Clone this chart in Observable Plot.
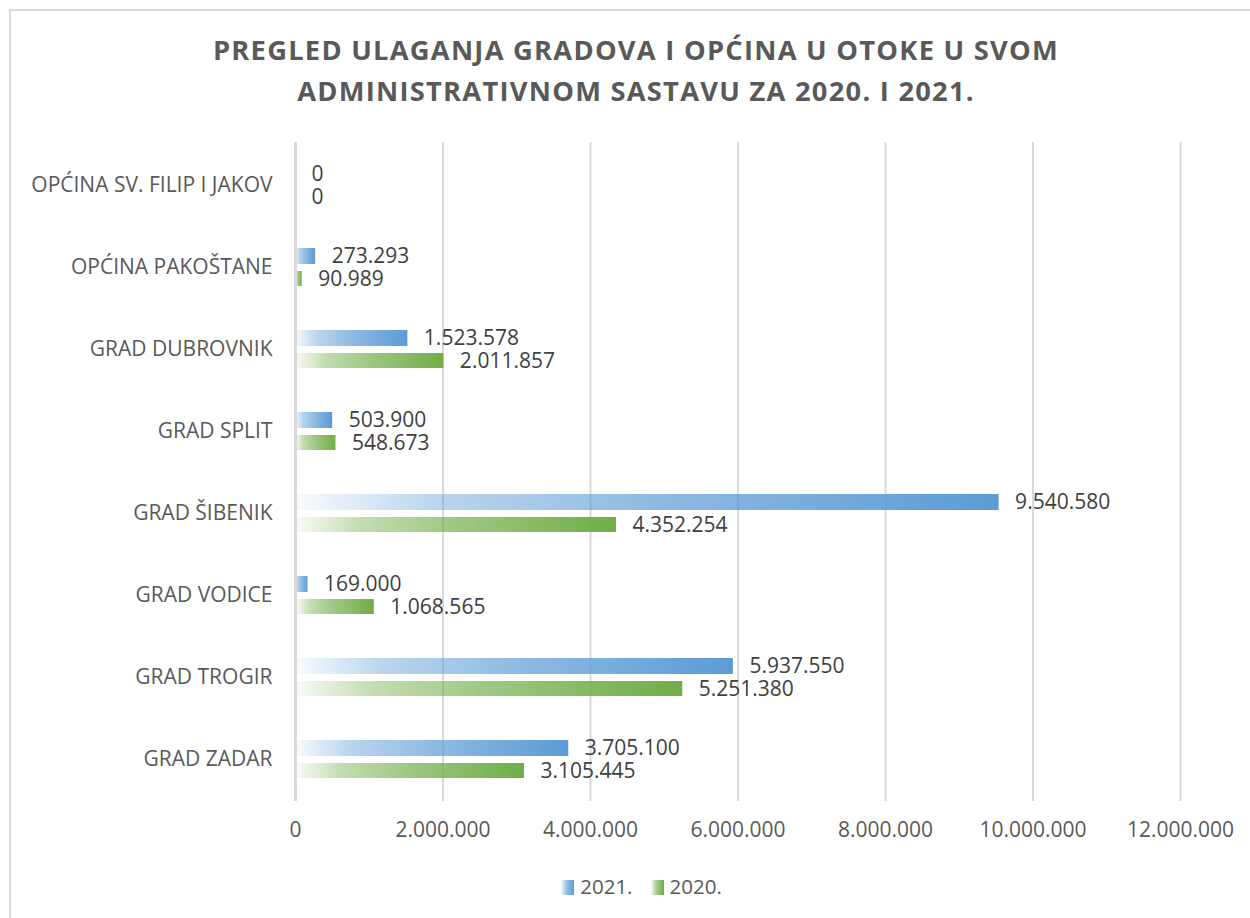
<!DOCTYPE html>
<html>
<head>
<meta charset="utf-8">
<script src="https://cdn.jsdelivr.net/npm/d3@7"></script>
<script src="https://cdn.jsdelivr.net/npm/@observablehq/plot@0.6"></script>
<style>
  html, body { margin: 0; padding: 0; background: #fff; }
  body { width: 1250px; height: 918px; overflow: hidden; position: relative; font-family: "Open Sans", sans-serif; }
  #frame { position: absolute; left: 9px; top: 9px; width: 1260px; height: 930px; border: 2px solid #d9d9d9; box-sizing: border-box; }
  #title { position: absolute; left: 10px; width: 1252px; top: 29px; text-align: center; font-weight: 700; font-size: 27.3px; line-height: 41px; letter-spacing: 1.25px; color: #595959; }
  #chart { position: absolute; left: 0; top: 120px; }
  #legend { position: absolute; left: 0; width: 1283px; top: 872px; text-align: center; font-size: 20.5px; color: #595959; }
  #legend span.item { display: inline-block; margin: 0 9px; }
  #legend span.sw { display: inline-block; width: 13px; height: 15px; vertical-align: -1px; margin-right: 6px; }
</style>
</head>
<body>
<div id="frame"></div>
<div id="title">PREGLED ULAGANJA GRADOVA I OPĆINA U OTOKE U SVOM<br>ADMINISTRATIVNOM SASTAVU ZA 2020. I 2021.</div>
<div id="chart"></div>
<div id="legend"></div>
<script>
const categories = [
  "OPĆINA SV. FILIP I JAKOV",
  "OPĆINA PAKOŠTANE",
  "GRAD DUBROVNIK",
  "GRAD SPLIT",
  "GRAD ŠIBENIK",
  "GRAD VODICE",
  "GRAD TROGIR",
  "GRAD ZADAR"
];
const values2021 = [0, 273293, 1523578, 503900, 9540580, 169000, 5937550, 3705100];
const values2020 = [0, 90989, 2011857, 548673, 4352254, 1068565, 5251380, 3105445];
const seriesNames = ["2021.", "2020."];
const xTicks = [0, 2000000, 4000000, 6000000, 8000000, 10000000, 12000000];

const rows = categories.map((c, i) => ({cat: c, v2021: values2021[i], v2020: values2020[i]}));
const locale = d3.formatLocale({decimal: ",", thousands: ".", grouping: [3], currency: ["", ""]});
const fmt = locale.format(",d");

const chart = Plot.plot({
  width: 1250,
  height: 740,
  marginTop: 22,
  marginBottom: 59,
  marginLeft: 295,
  marginRight: 70,
  style: {fontFamily: "Open Sans", fontSize: "21px", color: "#595959", background: "transparent", overflow: "visible"},
  x: {domain: [0, 12000000], label: null},
  y: {domain: categories, paddingInner: 0.54, paddingOuter: 0.27, label: null},
  marks: [
    Plot.gridX(xTicks.slice(1), {stroke: "#d9d9d9", strokeWidth: 2, strokeOpacity: 1}),
    Plot.axisX({ticks: xTicks, tickFormat: fmt, tickSize: 0, tickPadding: 21, fontSize: 21, fill: "#595959"}),
    Plot.axisY({tickSize: 0, tickPadding: 23, fontSize: 21, fill: "#595959"}),
    Plot.barX(rows, {x: "v2021", y: "cat", fill: "url(#gBlue)", insetBottom: 22}),
    Plot.barX(rows, {x: "v2020", y: "cat", fill: "url(#gGreen)", insetTop: 23}),
    Plot.ruleX([0], {stroke: "#d9d9d9", strokeWidth: 3}),
    Plot.text(rows, {x: "v2021", y: "cat", text: d => fmt(d.v2021), dx: 16, dy: -11, textAnchor: "start", fill: "#404040", fontSize: 21}),
    Plot.text(rows, {x: "v2020", y: "cat", text: d => fmt(d.v2020), dx: 16, dy: 12, textAnchor: "start", fill: "#404040", fontSize: 21})
  ]
});

const defs = d3.select(chart).insert("defs", ":first-child");
function addGrad(id, color) {
  const g = defs.append("linearGradient").attr("id", id).attr("x1", 0).attr("x2", 1).attr("y1", 0).attr("y2", 0);
  [[0, 0.04], [0.2, 0.42], [0.5, 0.68], [1, 1]].forEach(([o, a]) => {
    g.append("stop").attr("offset", o).attr("stop-color", color).attr("stop-opacity", a);
  });
}
addGrad("gBlue", "#5b9bd5");
addGrad("gGreen", "#70ad47");
document.getElementById("chart").appendChild(chart);

const legend = document.getElementById("legend");
const grads = [
  "linear-gradient(to right, rgba(91,155,213,0.05), rgba(91,155,213,0.6) 40%, #5b9bd5)",
  "linear-gradient(to right, rgba(112,173,71,0.05), rgba(112,173,71,0.6) 40%, #70ad47)"
];
seriesNames.forEach((s, i) => {
  const it = document.createElement("span");
  it.className = "item";
  it.innerHTML = `<span class="sw" style="background:${grads[i]}"></span>${s}`;
  legend.appendChild(it);
});
</script>
</body>
</html>
